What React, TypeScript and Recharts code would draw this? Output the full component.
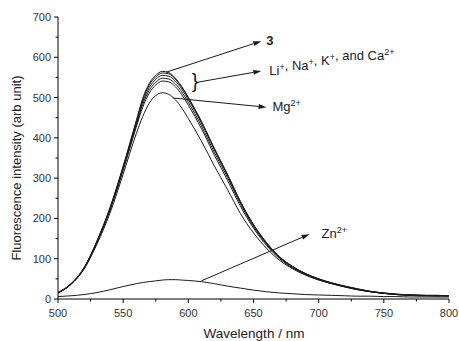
import React from "react";
import {
  LineChart,
  Line,
  XAxis,
  YAxis,
  ReferenceLine,
  Label,
} from "recharts";

// wavelength (nm)
const wavelengths = [
  500, 510, 520, 530, 540, 550, 560, 565, 570, 575, 580, 585, 590, 595, 600,
  610, 620, 630, 640, 650, 660, 670, 680, 690, 700, 710, 720, 730, 740, 750,
  760, 770, 780, 790, 800,
];

// fluorescence intensity per sample
const free3 = [
  16, 38, 78, 145, 228, 330, 442, 498, 535, 555, 565, 562, 548, 527, 500, 440,
  372, 308, 240, 183, 138, 104, 80, 63, 50, 40, 32, 25, 19, 15, 12, 10, 9, 9, 8,
];
const withLi = [
  16, 38, 77, 144, 226, 328, 439, 494, 531, 551, 561, 559, 546, 526, 500, 441,
  374, 310, 242, 185, 140, 105, 81, 63, 50, 40, 32, 25, 19, 15, 12, 10, 9, 9, 8,
];
const withNa = [
  15, 37, 77, 143, 225, 326, 435, 489, 525, 545, 555, 553, 541, 521, 495, 437,
  371, 308, 241, 184, 139, 104, 80, 62, 49, 39, 31, 24, 18, 14, 11, 10, 9, 8, 8,
];
const withK = [
  15, 37, 76, 142, 223, 323, 431, 483, 518, 538, 548, 546, 534, 514, 488, 430,
  364, 302, 236, 180, 136, 102, 79, 62, 49, 39, 31, 24, 18, 14, 11, 10, 9, 8, 8,
];
const withCa = [
  15, 37, 76, 141, 221, 320, 426, 476, 511, 531, 541, 539, 527, 507, 481, 423,
  357, 295, 230, 176, 133, 100, 77, 61, 48, 38, 30, 23, 18, 14, 11, 9, 8, 8, 8,
];
const withMg = [
  15, 36, 74, 137, 214, 310, 410, 453, 486, 505, 512, 508, 495, 474, 448, 392,
  330, 272, 212, 164, 126, 96, 75, 59, 47, 38, 30, 23, 18, 14, 11, 9, 8, 8, 8,
];
const withZn = [
  6, 8, 11, 16, 23, 31, 38, 41, 43, 45, 47, 48, 48, 47, 46, 43, 38, 32, 27, 22,
  18, 15, 13, 11, 10, 9, 8, 7, 7, 6, 6, 5, 5, 5, 5,
];

const xTicks = [500, 525, 550, 575, 600, 625, 650, 675, 700, 725, 750, 775, 800];
const yTicks = [0, 50, 100, 150, 200, 250, 300, 350, 400, 450, 500, 550, 600, 650, 700];

const seriesKeys = ["free3", "li", "na", "k", "ca", "mg", "zn"];

const data = wavelengths.map((wl, i) => ({
  wl,
  free3: free3[i],
  li: withLi[i],
  na: withNa[i],
  k: withK[i],
  ca: withCa[i],
  mg: withMg[i],
  zn: withZn[i],
}));

const FONT = "'Liberation Sans', Arial, sans-serif";
const INK = "#1a1a1a";

const XTick = ({ x, y, payload }: any) => {
  const major = payload.value % 50 === 0;
  return (
    <g>
      <line x1={x} x2={x} y1={y} y2={y + (major ? 4 : 2.5)} stroke="#000" />
      {major && (
        <text x={x} y={y + 18} textAnchor="middle" fontSize={11} fill="#333" fontFamily={FONT}>
          {payload.value}
        </text>
      )}
    </g>
  );
};

const YTick = ({ x, y, payload }: any) => {
  const major = payload.value % 100 === 0;
  return (
    <g>
      <line x1={x - (major ? 4 : 2.5)} x2={x} y1={y} y2={y} stroke="#000" />
      {major && (
        <text x={x - 7} y={y + 4} textAnchor="end" fontSize={11} fill="#333" fontFamily={FONT}>
          {payload.value}
        </text>
      )}
    </g>
  );
};

// arrow with a text at its head
const arrowShape =
  (label: React.ReactNode, dx: number, brace = false) =>
  (p: any) => {
    const { x1, y1, x2, y2 } = p;
    const ang = Math.atan2(y2 - y1, x2 - x1);
    const len = 8;
    const w = 2.5;
    const bx = x2 - len * Math.cos(ang);
    const by = y2 - len * Math.sin(ang);
    const pts = [
      `${x2},${y2}`,
      `${bx + w * Math.sin(ang)},${by - w * Math.cos(ang)}`,
      `${bx - w * Math.sin(ang)},${by + w * Math.cos(ang)}`,
    ].join(" ");
    return (
      <g>
        <line x1={x1} y1={y1} x2={bx} y2={by} stroke={INK} strokeWidth={1} />
        <polygon points={pts} fill={INK} />
        {brace && (
          <text x={x1 + 1} y={y1 + 6} textAnchor="end" fontSize={20} fill={INK} fontFamily={FONT}>
            {"}"}
          </text>
        )}
        <text x={x2 + dx} y={y2 + 4} fontSize={13} fill="#222" fontFamily={FONT}>
          {label}
        </text>
      </g>
    );
  };

const sup = (s: string) => (
  <>
    <tspan dy={-5} fontSize={9}>
      {s}
    </tspan>
    <tspan dy={5}>{""}</tspan>
  </>
);

export default function App() {
  return (
    <div style={{ position: "absolute", left: 0, top: 0, background: "#fff" }}>
      <LineChart
        width={459}
        height={341}
        data={data}
        margin={{ top: 17, right: 10, left: 0, bottom: 0 }}
      >
        <XAxis
          type="number"
          dataKey="wl"
          domain={[500, 800]}
          ticks={xTicks}
          interval={0}
          height={42}
          tickSize={0}
          tickMargin={0}
          tickLine={false}
          tick={<XTick />}
          axisLine={{ stroke: "#000" }}
        >
          <Label
            content={() => (
              <text
                x={254}
                y={338}
                textAnchor="middle"
                fontSize={13.5}
                fill="#222"
                fontFamily={FONT}
              >
                Wavelength / nm
              </text>
            )}
          />
        </XAxis>
        <YAxis
          type="number"
          domain={[0, 700]}
          ticks={yTicks}
          interval={0}
          width={58}
          tickSize={0}
          tickMargin={0}
          tickLine={false}
          tick={<YTick />}
          axisLine={{ stroke: "#000" }}
        >
          <Label
            content={() => (
              <text
                x={21}
                y={168}
                transform="rotate(-90, 21, 168)"
                textAnchor="middle"
                fontSize={13}
                fill="#222"
                fontFamily={FONT}
              >
                Fluorescence intensity (arb unit)
              </text>
            )}
          />
        </YAxis>
        {seriesKeys.map((key) => (
          <Line
            key={key}
            type="monotone"
            dataKey={key}
            stroke={INK}
            strokeWidth={1}
            dot={false}
            isAnimationActive={false}
          />
        ))}
        <ReferenceLine
          segment={[{ x: 583, y: 563 }, { x: 656, y: 640 }]}
          shape={arrowShape(<tspan fontWeight="bold">3</tspan>, 5)}
        />
        <ReferenceLine
          segment={[{ x: 607, y: 538 }, { x: 656, y: 566 }]}
          shape={arrowShape(
            <>
              Li{sup("+")}, Na{sup("+")}, K{sup("+")}, and Ca{sup("2+")}
            </>,
            8,
            true
          )}
        />
        <ReferenceLine
          segment={[{ x: 588, y: 499 }, { x: 660, y: 476 }]}
          shape={arrowShape(<>Mg{sup("2+")}</>, 6)}
        />
        <ReferenceLine
          segment={[{ x: 610, y: 45 }, { x: 693, y: 161 }]}
          shape={arrowShape(<>Zn{sup("2+")}</>, 12)}
        />
      </LineChart>
    </div>
  );
}
